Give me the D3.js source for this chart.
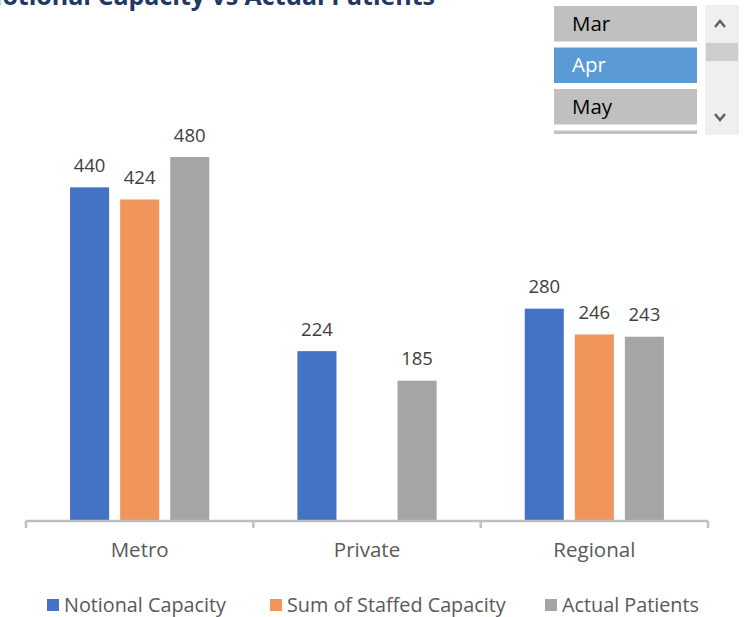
<!DOCTYPE html>
<html>
<head>
<meta charset="utf-8">
<script src="https://cdn.jsdelivr.net/npm/d3@7"></script>
<style>
  body { margin: 0; background: #fff; }
  svg { display: block; font-family: "Open Sans", Lato, sans-serif; }
</style>
</head>
<body>
<svg id="canvas" width="744" height="617"></svg>
<script>
const categories = ['Metro', 'Private', 'Regional'];
const seriesNames = ['Notional Capacity', 'Sum of Staffed Capacity', 'Actual Patients'];
const notional = [440, 224, 280];
const staffed = [424, null, 246];
const actual = [480, 185, 243];
const months = ['Mar', 'Apr', 'May', 'Jun'];
const selectedMonth = 'Apr';

const colors = ['#4472c4', '#f0965a', '#a5a5a5'];
const allSeries = [notional, staffed, actual];

const svg = d3.select('#canvas');

/** Title, cut off at the top like the original */
svg.append('text')
    .attr('x', 435)
    .attr('y', 5)
    .attr('text-anchor', 'end')
    .attr('font-size', 25)
    .attr('font-weight', 700)
    .attr('fill', '#203864')
    .text('Notional Capacity vs Actual Patients');

/** Scales */
const x0 = d3.scaleBand()
    .domain(categories)
    .range([26, 708]);

const x1 = d3.scaleBand()
    .domain(seriesNames)
    .range([0, x0.bandwidth()])
    .paddingInner(0.22)
    .paddingOuter(0.88);

const y = d3.scaleLinear()
    .domain([0, 480])
    .range([521, 157]);

/** Bars */
const groups = svg.selectAll('g.cat')
    .data(categories)
    .enter()
    .append('g')
    .attr('class', 'cat')
    .attr('transform', (d) => `translate(${x0(d)},0)`);

groups.each(function (cat, ci) {
    const g = d3.select(this);
    seriesNames.forEach((name, si) => {
        const v = allSeries[si][ci];
        if (v === null) return;
        g.append('rect')
            .attr('x', x1(name))
            .attr('y', y(v))
            .attr('width', x1.bandwidth())
            .attr('height', y(0) - y(v) - 1)
            .attr('fill', colors[si]);
        g.append('text')
            .attr('x', x1(name) + x1.bandwidth() / 2)
            .attr('y', y(v) - 15.5)
            .attr('text-anchor', 'middle')
            .attr('font-size', 18.5)
            .attr('fill', '#404040')
            .text(v);
    });
});

/** Category axis */
const axis = svg.append('g')
    .attr('transform', 'translate(0,521)')
    .call(d3.axisBottom(x0).tickSize(0));

axis.select('.domain').remove();
axis.append('line')
    .attr('x1', 26).attr('x2', 708)
    .attr('stroke', '#bfbfbf').attr('stroke-width', 2.5);
axis.selectAll('.sep')
    .data(d3.range(categories.length + 1))
    .enter()
    .append('line')
    .attr('x1', (i) => 26 + i * x0.bandwidth())
    .attr('x2', (i) => 26 + i * x0.bandwidth())
    .attr('y1', 0).attr('y2', 7)
    .attr('stroke', '#bfbfbf').attr('stroke-width', 2.5);
axis.selectAll('.tick text')
    .attr('y', 36)
    .attr('dy', null)
    .attr('font-size', 20.5)
    .attr('fill', '#595959')
    .attr('font-family', '"Open Sans", Lato, sans-serif');

/** Legend */
const legendX = [47, 270, 545];
const legend = svg.selectAll('g.legend')
    .data(seriesNames)
    .enter()
    .append('g')
    .attr('class', 'legend')
    .attr('transform', (d, i) => `translate(${legendX[i]},599)`);
legend.append('rect')
    .attr('width', 12).attr('height', 12)
    .attr('fill', (d, i) => colors[i]);
legend.append('text')
    .attr('x', 17).attr('y', 13)
    .attr('font-size', 19.8)
    .attr('fill', '#595959')
    .text((d) => d);

/** Month slicer */
const slicer = svg.append('g');
const itemY = d3.scaleBand().domain(months).range([6, 166]).paddingInner(0.145);
slicer.selectAll('rect.item')
    .data(months)
    .enter()
    .append('rect')
    .attr('class', 'item')
    .attr('x', 554)
    .attr('y', (d) => itemY(d))
    .attr('width', 143)
    .attr('height', (d) => Math.max(0, Math.min(itemY.bandwidth(), 134 - itemY(d))))
    .attr('fill', (d) => d === selectedMonth ? '#5b9bd5' : '#c0c0c0');
slicer.selectAll('text.item')
    .data(months.slice(0, 3))
    .enter()
    .append('text')
    .attr('x', 572)
    .attr('y', (d) => itemY(d) + itemY.bandwidth() / 2 + 7)
    .attr('font-size', 20.5)
    .attr('fill', (d) => d === selectedMonth ? '#ffffff' : '#000000')
    .text((d) => d);

/** Scrollbar */
slicer.append('rect')
    .attr('x', 705).attr('y', 5).attr('width', 34).attr('height', 130)
    .attr('fill', '#efefef');
slicer.append('rect')
    .attr('x', 706).attr('y', 43).attr('width', 32).attr('height', 18)
    .attr('fill', '#cdcdcd');
slicer.append('path')
    .attr('d', 'M715,27 L720,21 L725,27')
    .attr('fill', 'none').attr('stroke', '#606060').attr('stroke-width', 2.5);
slicer.append('path')
    .attr('d', 'M715,114 L720,120 L725,114')
    .attr('fill', 'none').attr('stroke', '#606060').attr('stroke-width', 2.5);
</script>
</body>
</html>
